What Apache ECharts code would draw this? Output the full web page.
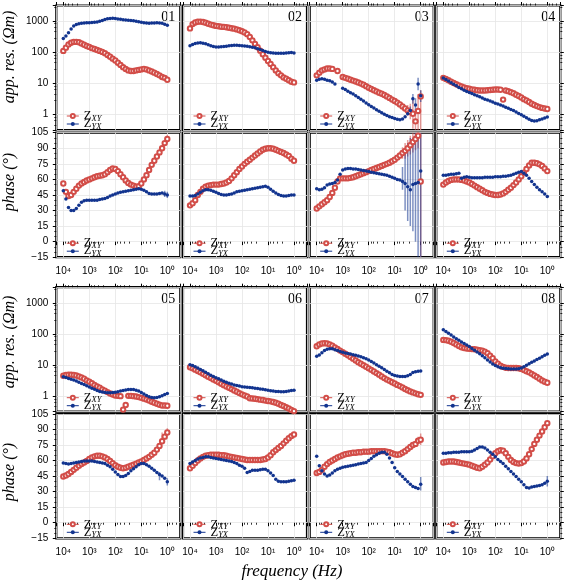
<!DOCTYPE html>
<html><head><meta charset="utf-8">
<script src="https://cdn.jsdelivr.net/npm/echarts@6/dist/echarts.min.js"></script>
<style>html,body{margin:0;padding:0;background:#fff}#c{width:567px;height:582px}</style>
</head><body><div id="c"></div><script>
// ---------- data ----------
const freq = [10000, 7943, 6310, 5012, 3981, 3162, 2512, 1995, 1585, 1259, 1000, 794.3, 631, 501.2, 398.1, 316.2, 251.2, 199.5, 158.5, 125.9, 100, 79.43, 63.1, 50.12, 39.81, 31.62, 25.12, 19.95, 15.85, 12.59, 10, 7.943, 6.31, 5.012, 3.981, 3.162, 2.512, 1.995, 1.585, 1.259, 1];
const siteLabels = ['01','02','03','04','05','06','07','08'];
const resTicks = [1, 10, 100, 1000];
const phaseTicks = [-15, 0, 15, 30, 45, 60, 75, 90, 105];

const rhoXY01 = [110, 140, 178, 200, 214, 214, 209, 190, 174, 158, 148, 135, 126, 117, 110, 102, 93, 81, 71, 62, 54, 46, 39, 33, 29, 26, 25, 25, 26, 27, 28, 29, 28, 26, 24, 22, 20, 18, 16, 15, 13];
const rhoYX01 = [275, 330, 420, 560, 700, 780, 820, 850, 870, 880, 890, 900, 910, 930, 980, 1050, 1120, 1180, 1210, 1220, 1200, 1170, 1140, 1110, 1090, 1070, 1050, 1020, 990, 950, 910, 880, 860, 850, 860, 870, 880, 870, 850, 790, 740];
const rhoXY02 = [580, 800, 900, 950, 960, 930, 880, 820, 770, 730, 700, 680, 660, 650, 630, 610, 590, 570, 540, 505, 470, 430, 380, 310, 240, 185, 145, 112, 86, 66, 52, 42, 33, 26, 21, 18, 15.5, 14, 12.5, 11.2, 10.7];
const rhoYX02 = [160, 175, 190, 198, 200, 195, 185, 172, 160, 152, 148, 148, 150, 152, 156, 160, 164, 166, 166, 165, 162, 158, 154, 150, 145, 138, 130, 122, 114, 106, 100, 96, 94, 93, 92, 92, 93, 95, 96, 97, 95];
const rhoXY03 = [18, 22, 26, 28, 30, 30, 29, null, 25, null, 16, 15, 14, 13, 12.2, 11.4, 10.6, 9.8, 9.0, 8.1, 7.2, 6.6, 6.0, 5.5, 5.0, 4.6, 4.2, 3.8, 3.4, 3.0, 2.7, 2.4, 2.1, 1.8, 1.55, 1.35, 1.2, 1.05, 0.6, 1.3, 3.8];
const rhoYX03 = [12.5, 13.5, 14, 13.5, 12.5, 12, 11, 9.5, null, null, 7, 6.3, 5.6, 5.0, 4.5, 4.0, 3.5, 3.1, 2.7, 2.35, 2.05, 1.8, 1.6, 1.42, 1.27, 1.13, 1.02, 0.93, 0.85, 0.79, 0.74, 0.7, 0.68, 0.72, 0.85, 1.05, 1.35, 3.2, 2.0, 9.5, 4.0];
const rhoXY04 = [15, 13.8, 12.5, 11.2, 10.2, 9.3, 8.6, 8.0, 7.4, 7.0, 6.7, 6.4, 6.2, 6.0, 5.9, 5.9, 5.9, 6.0, 6.1, 6.2, 6.3, 6.3, 6.2, 3.0, 5.9, 5.6, 5.2, 4.8, 4.3, 3.9, 3.5, 3.1, 2.8, 2.5, 2.2, 2.0, 1.85, 1.72, 1.62, 1.55, 1.5];
const rhoYX04 = [14.8, 13.3, 11.8, 10.5, 9.3, 8.3, 7.4, 6.7, 6.0, 5.5, 5.1, 4.7, 4.3, 4.0, 3.7, 3.4, 3.1, 2.9, 2.7, 2.5, 2.3, 2.15, 2.0, 1.85, 1.7, 1.58, 1.45, 1.33, 1.2, 1.08, 0.97, 0.87, 0.78, 0.7, 0.64, 0.62, 0.63, 0.67, 0.72, 0.77, 0.82];
const rhoXY05 = [4.5, 4.8, 4.9, 4.9, 4.8, 4.6, 4.3, 4.0, 3.6, 3.2, 2.9, 2.6, 2.3, 2.05, 1.85, 1.65, 1.5, 1.35, 1.22, 1.12, 1.05, 1.02, 1.0, 0.37, 0.52, 1.02, 1.02, 1.0, 0.97, 0.93, 0.88, 0.83, 0.78, 0.72, 0.66, 0.61, 0.57, 0.53, 0.5, 0.5, 0.49];
const rhoYX05 = [4.2, 4.0, 3.7, 3.5, 3.3, 3.05, 2.8, 2.55, 2.35, 2.15, 1.95, 1.8, 1.65, 1.52, 1.42, 1.35, 1.3, 1.28, 1.28, 1.3, 1.33, 1.38, 1.45, 1.52, 1.58, 1.62, 1.64, 1.62, 1.55, 1.45, 1.32, 1.18, 1.05, 0.95, 0.9, 0.88, 0.9, 0.95, 1.03, 1.12, 1.22];
const rhoXY06 = [8.5, 7.8, 7.1, 6.4, 5.8, 5.2, 4.7, 4.2, 3.8, 3.4, 3.1, 2.8, 2.5, 2.25, 2.05, 1.85, 1.68, 1.52, 1.38, 1.25, 1.14, 1.05, 0.97, 0.86, 0.84, 0.82, 0.8, 0.77, 0.75, 0.72, 0.7, 0.68, 0.65, 0.61, 0.57, 0.52, 0.48, 0.44, 0.4, 0.36, 0.33];
const rhoYX06 = [10.2, 9.6, 8.8, 8.0, 7.2, 6.5, 5.8, 5.2, 4.7, 4.3, 3.9, 3.6, 3.3, 3.0, 2.8, 2.6, 2.45, 2.3, 2.2, 2.1, 2.0, 1.95, 1.92, 1.9, 1.85, 1.8, 1.75, 1.7, 1.65, 1.6, 1.55, 1.5, 1.45, 1.42, 1.4, 1.38, 1.38, 1.4, 1.45, 1.52, 1.55];
const rhoXY07 = [40, 46, 49, 50, 49, 46, 42, 37, 33, 29, 26, 23, 20.5, 18, 16, 14, 12.3, 11, 9.8, 8.8, 7.8, 7.0, 6.2, 5.5, 4.9, 4.3, 3.8, 3.4, 3.1, 2.8, 2.55, 2.3, 2.1, 1.9, 1.7, 1.55, 1.42, 1.32, 1.23, 1.15, 1.1];
const rhoYX07 = [19, 21, 25, 29, 32, 33, 33, 31, 29, 27, 25.5, 24.5, 23.5, 22.5, 21.5, 20.5, 19.5, 18.3, 17, 15.8, 14.5, 13, 11.5, 10.2, 9.1, 8.1, 7.2, 6.3, 5.6, 5.0, 4.6, 4.4, 4.3, 4.3, 4.3, 4.5, 5.0, 5.7, 6.1, 6.3, 6.4];
const rhoXY08 = [64, 63, 60, 56, 51, 46, 41, 37, 35, 34, 33, 32.5, 32, 31, 30, 29, 27, 24, 20, 16.5, 13, 11, 9.5, 8.7, 8.2, 8.0, 8.0, 8.0, 8.0, 7.9, 7.5, 6.9, 6.3, 5.8, 5.2, 4.6, 4.1, 3.6, 3.2, 2.9, 2.7];
const rhoYX08 = [135, 120, 105, 92, 80, 70, 62, 55, 49, 44, 39, 34, 30, 26, 23, 20, 17, 14.5, 12.5, 10.8, 9.6, 8.8, 8.2, 7.9, 7.7, 7.6, 7.5, 7.5, 7.5, 7.6, 8.0, 8.8, 9.8, 11, 12.2, 13.5, 15, 16.5, 18.5, 20.5, 22.5];

const phXY01 = [56, 48, 44, 45, 48, 51, 54, 56, 57.5, 59, 60, 61, 62, 63, 63.5, 64, 65, 67, 69, 70.5, 70, 68, 65, 62, 59, 56.5, 55, 54, 53, 53.5, 56, 60, 64, 69, 74, 78, 82, 86, 90, 95, 99];
const phYX01 = [49, 41, 33, 30, 30, 32, 35, 38, 39.5, 40, 40, 40, 40, 40, 40.5, 41, 41.5, 42.5, 44, 45, 46, 47, 47.5, 48, 48.5, 49, 49.5, 50, 50.5, 51, 50.5, 49.5, 48, 46.5, 46, 46, 46, 46.5, 47, 46, 45];
const phXY02 = [35, 37, 40, 45, 48, 51, 53, 54, 54.5, 55, 55, 55, 55.5, 56, 57, 58.5, 61, 64, 67, 70, 72.5, 75, 77, 79, 81, 83, 85, 87, 88.5, 89.5, 90, 90, 89.5, 88.5, 87.5, 86.5, 85.5, 84, 82.5, 80, 78];
const phYX02 = [44, 44, 44.5, 46, 47.5, 49, 50, 50, 49.5, 48.5, 47.5, 46.5, 45.5, 45, 45, 45.5, 46, 47, 48, 48.5, 49, 49.5, 50, 50.5, 51, 51.5, 52, 52.5, 53, 53.5, 52.5, 50.5, 48.5, 47, 45.5, 44.5, 44, 44, 44.5, 45, 45];
const phXY03 = [32, 34, 36, 38, 40, 43, 47, 52, 58, 61, 61, 61, 61, 61.5, 62, 63, 64, 65, 66, 67, 68, 69, 70, 71, 72, 73, 74, 75, 76, 77.5, 79, 81, 83, 85.5, 87.5, 90, 93, 96, 99, 102, 58];
const phYX03 = [51, 50, 50.5, 52, 54.5, 55.5, 56, 57, 59.5, 65, 69, 70, 70.5, 70.5, 70, 70, 69.5, 69, 68.5, 68, 67.5, 67, 66.5, 66, 65.5, 65, 64.5, 64, 63, 62, 61, 60, 59.5, 58, 56, 53, 50, 55, 56, 57, 68];
const phXY04 = [55, 57, 58.5, 59.5, 60, 60, 60, 59.5, 59, 58, 57, 55.5, 54, 52.5, 51, 49.5, 48, 47, 46, 45.5, 45, 45, 45.5, 46.5, 48, 50, 52, 54.5, 57, 60, 63, 66.5, 70, 73.5, 76, 76, 75.5, 74.5, 73, 70.5, 68];
const phYX04 = [64, 64, 64.5, 65, 65, 65.5, 66, 61, 62, 62.5, 62, 61.5, 61.5, 61.5, 61.5, 61.5, 62, 62, 62, 62, 62.5, 62.5, 62.5, 63, 63, 63.5, 64, 65, 66, 67, 67.5, 66, 64, 61, 58, 55, 52.5, 50, 48, 46, 43.5];
const phXY05 = [44.5, 45.5, 47, 49, 51, 53, 55, 56.5, 58, 59.5, 61.5, 63, 64, 64.5, 64.5, 64, 63, 61.5, 59.5, 57.5, 55.5, 54, 53, 52.5, 53, 54, 55, 56, 57, 58, 59, 60.5, 62, 63.5, 65.5, 67.5, 70.5, 74, 78.5, 83, 87];
const phYX05 = [57.5, 57, 56.5, 57, 57.5, 58, 58.5, 59, 59.5, 59.5, 59.5, 59.5, 59, 58.5, 58, 57.5, 57, 55.5, 54, 51.5, 49, 46.5, 44.5, 44.5, 45.5, 47.5, 50, 52, 54, 56, 57, 57, 56, 54.5, 52.5, 50.5, 48.5, 46.5, 45, 43, 39.5];
const phXY06 = [52.5, 55, 57.5, 60, 62, 63.5, 64.5, 65, 65.5, 65.5, 65.5, 65.5, 65, 65, 64.5, 64, 63.5, 63, 62.5, 62, 61.5, 61, 60.5, 60.5, 60.5, 60.5, 60.5, 60.5, 61, 61.5, 63, 65, 68, 70, 72, 74, 76.5, 79, 81.5, 83.5, 85];
const phYX06 = [57, 58.5, 60, 61.5, 62.5, 63, 63.5, 63.5, 63, 62.5, 62, 61.5, 61, 60.5, 60, 59.5, 59, 58, 57, 55.5, 54.5, 52.5, 48.5, 49.5, 50.5, 50.5, 50.5, 51, 51.5, 51.5, 50, 48, 45.5, 42, 40, 39.5, 39.5, 39.5, 40, 40.5, 41];
const phXY07 = [48, 49, 51, 54, 56.5, 58.5, 60, 61.5, 63, 64, 65, 66, 66.5, 67, 67.5, 67.5, 68, 68, 68.5, 68.5, 68.5, 69, 69, 69, 69, 69, 69, 68.5, 68, 67, 66, 65.5, 66, 67.5, 69, 71, 73, 75, 76, 79, 80];
const phYX07 = [64, 55, 50, 47, 45, 46, 48, 50, 51.5, 52.5, 53.5, 54, 54.5, 55, 55.5, 56, 56.5, 57, 57.5, 58, 60, 62, 64, 65.5, 67, 68, 68, 66, 62.5, 58, 53, 49.5, 47, 44.5, 42, 39.5, 37, 35, 34, 33, 37];
const phXY08 = [58, 58.5, 59, 59, 59, 58.5, 58, 57.5, 57, 56.5, 56, 55, 54, 53, 52.5, 54, 56, 58, 61, 64, 67, 69, 70, 69.5, 67, 63.5, 60.5, 58.5, 57.5, 57, 57.5, 59, 62, 66, 71, 76, 80, 84, 88, 92, 96];
const phYX08 = [67, 67, 67.5, 67.5, 68, 68, 68, 68.5, 68.5, 68.5, 68.5, 69, 70, 71.5, 73, 73, 72, 70, 68, 66, 63.5, 61, 59, 57, 54.5, 52, 49.5, 47, 44.5, 42, 39.5, 36.5, 34, 33.5, 34.5, 35, 35.5, 36, 36.5, 38, 40];

// error bars: [frequency, low, high]
const errRhoXY03 = [[3.162, 0.9, 2.0], [2.512, 0.7, 2.2], [1.995, 0.35, 3.5], [1.585, 0.3, 1.5], [1.259, 0.3, 4.5], [1, 0.3, 6]];
const errRhoYX03 = [[2.512, 1.0, 1.8], [1.995, 2.2, 4.5], [1.585, 1.2, 3.3], [1.259, 6, 15], [1, 2.5, 6]];
const errPhXY03 = [[5.012, 80, 91], [3.981, 80, 95], [3.162, 82, 98], [2.512, 84, 102], [1.995, 86, 105], [1.585, 88, 105], [1.259, 90, 105], [1, -15, 105]];
const errPhYX03 = [[5.012, 50, 72], [3.981, 30, 85], [3.162, 20, 95], [2.512, 15, 100], [1.995, 10, 100], [1.585, 0, 105], [1.259, -15, 105], [1, -15, 105]];
const errPhXY01 = [[1, 95, 103]];
const errPhYX01 = [[1.259, 43, 49], [1, 42, 48]];
const errPhXY05 = [[1.585, 79, 87], [1.259, 80, 86], [1, 84, 91]];
const errPhYX05 = [[1.995, 41, 49], [1, 36, 43]];
const errPhXY07 = [[1.259, 76, 83], [1, 75, 86]];
const errPhYX07 = [[1, 31, 44]];
const errPhYX08 = [[1, 35, 45]];

// ---------- layout / style ----------
const RED = '#d24d48', BLUE = '#12348f';
const colLeft = [56.3, 183, 309.7, 436.3];
const rowTop = [5.5, 132.7, 287.2, 413.8];
const PW = 124, PH = 124.5;
const XMIN = 0.3162, XMAX = 18600;
const RMIN = 0.3162, RMAX = 3162;

const rhoXY = [rhoXY01, rhoXY02, rhoXY03, rhoXY04, rhoXY05, rhoXY06, rhoXY07, rhoXY08];
const rhoYX = [rhoYX01, rhoYX02, rhoYX03, rhoYX04, rhoYX05, rhoYX06, rhoYX07, rhoYX08];
const phXY = [phXY01, phXY02, phXY03, phXY04, phXY05, phXY06, phXY07, phXY08];
const phYX = [phYX01, phYX02, phYX03, phYX04, phYX05, phYX06, phYX07, phYX08];
const errSets = [
  {site: 2, kind: 'res', color: RED, data: errRhoXY03},
  {site: 2, kind: 'res', color: BLUE, data: errRhoYX03},
  {site: 2, kind: 'ph', color: RED, data: errPhXY03},
  {site: 2, kind: 'ph', color: BLUE, data: errPhYX03},
  {site: 0, kind: 'ph', color: RED, data: errPhXY01},
  {site: 0, kind: 'ph', color: BLUE, data: errPhYX01},
  {site: 4, kind: 'ph', color: RED, data: errPhXY05},
  {site: 4, kind: 'ph', color: BLUE, data: errPhYX05},
  {site: 6, kind: 'ph', color: RED, data: errPhXY07},
  {site: 6, kind: 'ph', color: BLUE, data: errPhYX07},
  {site: 7, kind: 'ph', color: BLUE, data: errPhYX08}
];

const SUP = {'0':'\u2070','1':'\u00B9','2':'\u00B2','3':'\u00B3','4':'\u2074'};
function isPow10(v){ const e = Math.log10(v); return Math.abs(e - Math.round(e)) < 1e-6; }
function freqLabel(v){ if (!isPow10(v)) return ''; const e = Math.round(Math.log10(v)); return (e >= 0 && e <= 4) ? '10' + SUP[e] : ''; }
function resLabel(v){ if (!isPow10(v)) return ''; const e = Math.round(Math.log10(v)); const t = Math.pow(10, e); return resTicks.indexOf(t) >= 0 ? String(t) : ''; }
function phLabel(v){ if (phaseTicks.indexOf(v) < 0) return ''; return v < 0 ? '\u2212' + (-v) : String(v); }

const labelFont = {fontFamily: 'Liberation Sans', fontSize: 10, color: '#000'};
const gridLine = {show: true, lineStyle: {color: '#e6e6e6', width: 0.8}};

const grids = [], xAxes = [], yAxes = [], series = [], legends = [], graphics = [];

for (let r = 0; r < 4; r++) {
  for (let c = 0; c < 4; c++) {
    const g = r * 4 + c;
    const isRes = (r % 2 === 0);
    grids.push({left: colLeft[c], top: rowTop[r], width: PW, height: PH, show: true,
      borderColor: '#000', borderWidth: 2.2, backgroundColor: 'transparent', containLabel: false});
    const bottomLabels = !isRes;
    xAxes.push({gridIndex: g, type: 'log', logBase: 10, inverse: true, min: XMIN, max: XMAX, position: 'bottom',
      axisLine: {show: false},
      axisTick: {show: bottomLabels, length: 3.5, lineStyle: {color: '#000', width: 1}},
      minorTick: {show: bottomLabels, length: 2, splitNumber: 5, lineStyle: {color: '#000', width: 0.8}},
      axisLabel: Object.assign({show: bottomLabels, margin: 9, formatter: freqLabel, showMinLabel: false, showMaxLabel: false}, labelFont),
      splitLine: gridLine});
    if (isRes) {
      yAxes.push({gridIndex: g, type: 'log', logBase: 10, min: RMIN, max: RMAX, position: 'left',
        axisLine: {show: false},
        axisTick: {show: c === 0, length: 3.5, lineStyle: {color: '#000'}},
        minorTick: {show: c === 0, length: 2, splitNumber: 5, lineStyle: {color: '#000', width: 0.8}},
        axisLabel: Object.assign({show: c === 0, margin: 8, formatter: resLabel, showMinLabel: false, showMaxLabel: false}, labelFont),
        splitLine: gridLine});
    } else {
      yAxes.push({gridIndex: g, type: 'value', min: -15, max: 105, interval: 15, position: 'left',
        axisLine: {show: false},
        axisTick: {show: c === 0, length: 3.5, lineStyle: {color: '#000'}},
        minorTick: {show: c === 0, length: 2, splitNumber: 3, lineStyle: {color: '#000', width: 0.8}},
        axisLabel: Object.assign({show: c === 0, margin: 8, formatter: phLabel}, labelFont),
        splitLine: gridLine});
    }
  }
}
// extra tick-only axes on the outer edges
for (let r = 0; r < 4; r++) {
  for (let c = 0; c < 4; c++) {
    const g = r * 4 + c;
    const isRes = (r % 2 === 0);
    if (isRes) {
      xAxes.push({gridIndex: g, type: 'log', logBase: 10, inverse: true, min: XMIN, max: XMAX, position: 'top',
        axisLine: {show: false}, axisLabel: {show: false}, splitLine: {show: false},
        axisTick: {show: true, length: 3.5, lineStyle: {color: '#000'}},
        minorTick: {show: true, length: 2, splitNumber: 5, lineStyle: {color: '#000', width: 0.8}}});
    }
    if (c === 3) {
      const base = isRes ? {type: 'log', logBase: 10, min: RMIN, max: RMAX} : {type: 'value', min: -15, max: 105, interval: 15};
      yAxes.push(Object.assign({gridIndex: g, position: 'right',
        axisLine: {show: false}, axisLabel: {show: false}, splitLine: {show: false},
        axisTick: {show: true, length: 3.5, lineStyle: {color: '#000'}},
        minorTick: {show: true, length: 2, splitNumber: isRes ? 5 : 3, lineStyle: {color: '#000', width: 0.8}}}, base));
    }
  }
}

function pts(arr){ return freq.map((f, i) => [f, arr[i]]); }
function gridOf(site, kind){ const b = Math.floor(site / 4), c = site % 4; const r = b * 2 + (kind === 'ph' ? 1 : 0); return r * 4 + c; }

const redStyle = {name: 'Z_XY', type: 'line', symbol: 'emptyCircle', symbolSize: 4.4, showAllSymbol: true,
  itemStyle: {color: RED, borderColor: RED, borderWidth: 0.9}, lineStyle: {width: 0, opacity: 0}, connectNulls: false, z: 3};
const blueStyle = {name: 'Z_YX', type: 'line', symbol: 'circle', symbolSize: 3.5, showAllSymbol: true,
  itemStyle: {color: BLUE}, lineStyle: {width: 0, opacity: 0}, connectNulls: false, z: 4};

for (let s = 0; s < 8; s++) {
  const gr = gridOf(s, 'res'), gp = gridOf(s, 'ph');
  series.push(Object.assign({}, redStyle, {xAxisIndex: gr, yAxisIndex: gr, data: pts(rhoXY[s])}));
  series.push(Object.assign({}, blueStyle, {xAxisIndex: gr, yAxisIndex: gr, data: pts(rhoYX[s])}));
  series.push(Object.assign({}, redStyle, {xAxisIndex: gp, yAxisIndex: gp, data: pts(phXY[s])}));
  series.push(Object.assign({}, blueStyle, {xAxisIndex: gp, yAxisIndex: gp, data: pts(phYX[s])}));
}
errSets.forEach(e => {
  const g = gridOf(e.site, e.kind);
  series.push({type: 'custom', xAxisIndex: g, yAxisIndex: g, clip: true, z: 2, silent: true, data: e.data,
    renderItem: function(params, api){
      const p1 = api.coord([api.value(0), api.value(1)]);
      const p2 = api.coord([api.value(0), api.value(2)]);
      return {type: 'line', shape: {x1: p1[0], y1: p1[1], x2: p2[0], y2: p2[1]},
        style: {stroke: e.color, lineWidth: 1.5, opacity: 0.55}};
    }});
});

// legends
const legRich = {
  z: {fontFamily: 'Liberation Serif', fontSize: 12.5, color: '#000', lineHeight: 11},
  s: {fontFamily: 'Liberation Serif', fontStyle: 'italic', fontSize: 8.5, color: '#000', lineHeight: 11, padding: [5, 0, 0, 0]}
};
for (let r = 0; r < 4; r++) {
  for (let c = 0; c < 4; c++) {
    const bottom = rowTop[r] + PH;
    [['Z_XY', 15.5], ['Z_YX', 7.5]].forEach(([nm, off]) => {
      legends.push({data: [nm], left: colLeft[c] + 10, top: bottom - off - 5.5, padding: 0,
        itemWidth: 12, itemHeight: 5, itemGap: 2, selectedMode: false,
        lineStyle: {width: 1, opacity: 1},
        formatter: n => n === 'Z_XY' ? '{z|Z}{s|XY}' : '{z|Z}{s|YX}',
        textStyle: {rich: legRich}});
    });
  }
}

// panel labels
for (let s = 0; s < 8; s++) {
  const b = Math.floor(s / 4), c = s % 4;
  graphics.push({type: 'text', x: colLeft[c] + PW - 5, y: rowTop[b * 2] + 12, silent: true,
    style: {text: siteLabels[s], font: '14px "Liberation Serif"', fill: '#000', textAlign: 'right', textVerticalAlign: 'middle'}});
}
// axis titles
[[57, 'app. res. (\u03A9m)'], [182, 'phase (\u00B0)'], [342, 'app. res. (\u03A9m)'], [472, 'phase (\u00B0)']].forEach(([y, t]) => {
  graphics.push({type: 'text', x: 10, y: y, rotation: Math.PI / 2, silent: true,
    style: {text: t, font: 'italic 16px "Liberation Serif"', fill: '#000', textAlign: 'center', textVerticalAlign: 'middle'}});
});
graphics.push({type: 'text', x: 292, y: 572, silent: true,
  style: {text: 'frequency (Hz)', font: 'italic 17px "Liberation Serif"', fill: '#000', textAlign: 'center', textVerticalAlign: 'middle'}});

const chart = echarts.init(document.getElementById('c'), null, {renderer: 'canvas'});
chart.setOption({
  animation: false,
  backgroundColor: '#fff',
  grid: grids, xAxis: xAxes, yAxis: yAxes, series: series, legend: legends, graphic: graphics
});
</script></body></html>
